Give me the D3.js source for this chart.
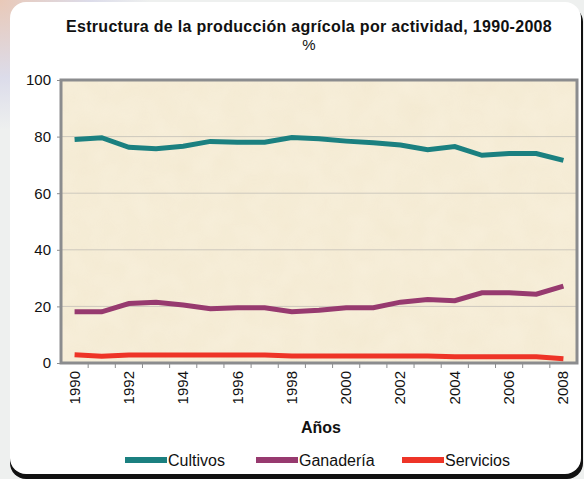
<!DOCTYPE html>
<html lang="es">
<head>
<meta charset="UTF-8">
<title>Estructura de la producción agrícola</title>
<style>
  html, body { margin: 0; padding: 0; background: #eef0ef; }
  svg { display: block; font-family: "Liberation Sans", Arial, sans-serif; }
</style>
</head>
<body>
<div id="chart"></div>
<script src="https://cdn.jsdelivr.net/npm/d3@7"></script>
<script>
// data
var years = ["1990","1991","1992","1993","1994","1995","1996","1997","1998","1999",
             "2000","2001","2002","2003","2004","2005","2006","2007","2008"];
var cultivos  = [79.0, 79.6, 76.2, 75.7, 76.6, 78.3, 78.0, 78.0, 79.7, 79.2,
                 78.4, 77.8, 77.0, 75.4, 76.5, 73.4, 74.0, 74.0, 71.6];
var ganaderia = [18.1, 18.1, 21.0, 21.5, 20.5, 19.2, 19.5, 19.5, 18.1, 18.6,
                 19.5, 19.5, 21.5, 22.4, 22.0, 24.8, 24.8, 24.3, 27.2];
var servicios = [2.9, 2.4, 2.8, 2.8, 2.8, 2.8, 2.8, 2.8, 2.5, 2.5,
                 2.5, 2.5, 2.5, 2.5, 2.2, 2.2, 2.2, 2.2, 1.5];
var seriesNames = ["Cultivos", "Ganadería", "Servicios"];
var seriesColors = ["#1b8080", "#973a6f", "#ee3427"];
var yTicks = [0, 20, 40, 60, 80, 100];

var W = 584, H = 479;
var svg = d3.select("#chart").append("svg").attr("width", W).attr("height", H);

var defs = svg.append("defs");
var bg = defs.append("radialGradient").attr("id", "bgGlow").attr("cx", "0").attr("cy", "0").attr("r", "0.5");
bg.append("stop").attr("offset", "0%").attr("stop-color", "#e9c9b8");
bg.append("stop").attr("offset", "60%").attr("stop-color", "#dcdcea");
bg.append("stop").attr("offset", "100%").attr("stop-color", "#eef0ef");

var tex = defs.append("filter").attr("id", "paper").attr("x", 0).attr("y", 0).attr("width", 1).attr("height", 1);
tex.append("feTurbulence").attr("type", "fractalNoise").attr("baseFrequency", 0.04).attr("numOctaves", 2).attr("seed", 3).attr("result", "n");
tex.append("feColorMatrix").attr("in", "n").attr("type", "matrix")
  .attr("values", "0 0 0 0 0.99  0 0 0 0 0.96  0 0 0 0 0.86  0 0 0 0.5 0");

// page background + card
svg.append("rect").attr("width", W).attr("height", H).attr("fill", "#eef0ef");
svg.append("rect").attr("width", 300).attr("height", 260).attr("fill", "url(#bgGlow)");
svg.append("rect").attr("x", 10).attr("y", 6).attr("width", 573).attr("height", 473)
  .attr("rx", 16).attr("fill", "#111");
svg.append("rect").attr("x", 10).attr("y", 2).attr("width", 571).attr("height", 472)
  .attr("rx", 16).attr("fill", "#fff");

var m = {left: 61, right: 577, top: 80, bottom: 363};

var x = d3.scaleBand().domain(years).range([m.left, m.right]);
var y = d3.scaleLinear().domain([0, 100]).range([m.bottom, m.top]);

// plot area
svg.append("rect").attr("x", m.left).attr("y", m.top)
  .attr("width", m.right - m.left).attr("height", m.bottom - m.top).attr("fill", "#f4ead2");
svg.append("rect").attr("x", m.left).attr("y", m.top)
  .attr("width", m.right - m.left).attr("height", m.bottom - m.top)
  .attr("filter", "url(#paper)").attr("opacity", 0.6);

// gridlines
svg.append("g").selectAll("line").data(yTicks.filter(function(d) { return d > 0 && d < 100; }))
  .join("line")
  .attr("x1", m.left).attr("x2", m.right)
  .attr("y1", function(d) { return y(d); }).attr("y2", function(d) { return y(d); })
  .attr("stroke", "#cdc8bd").attr("stroke-width", 1);

// frame
svg.append("rect").attr("x", m.left).attr("y", m.top)
  .attr("width", m.right - m.left).attr("height", m.bottom - m.top)
  .attr("fill", "none").attr("stroke", "#8b8c8e").attr("stroke-width", 3);

// y axis
var yAxis = svg.append("g").attr("transform", "translate(" + (m.left - 1) + ",0)")
  .call(d3.axisLeft(y).tickValues(yTicks).tickSize(3).tickPadding(6));
yAxis.select(".domain").remove();
yAxis.selectAll(".tick line").attr("stroke", "#8b8c8e");
yAxis.selectAll("text").attr("font-size", 15).attr("fill", "#111").attr("font-family", "Liberation Sans, Arial, sans-serif");

// x axis: ticks at category boundaries, labels rotated
var xg = svg.append("g").attr("transform", "translate(0," + (m.bottom + 1) + ")");
xg.selectAll("line").data(years.slice(1)).join("line")
  .attr("x1", function(d) { return x(d); }).attr("x2", function(d) { return x(d); })
  .attr("y1", 0).attr("y2", 4).attr("stroke", "#8b8c8e");
xg.selectAll("text").data(years.filter(function(d, i) { return i % 2 === 0; })).join("text")
  .attr("transform", function(d) { return "translate(" + (x(d) + x.bandwidth() / 2 + 5) + ",7) rotate(-90)"; })
  .attr("text-anchor", "end")
  .attr("font-size", 15).attr("fill", "#111")
  .text(function(d) { return d; });

// lines
var allSeries = [cultivos, ganaderia, servicios];
var line = d3.line()
  .x(function(d, i) { return x(years[i]) + x.bandwidth() / 2; })
  .y(function(d) { return y(d); });
svg.append("g").selectAll("path").data(allSeries).join("path")
  .attr("d", line)
  .attr("fill", "none")
  .attr("stroke", function(d, i) { return seriesColors[i]; })
  .attr("stroke-width", 5)
  .attr("stroke-linejoin", "miter");

// titles
svg.append("text").attr("x", 309).attr("y", 32).attr("text-anchor", "middle")
  .attr("font-size", 16).attr("font-weight", "bold").attr("fill", "#111")
  .attr("letter-spacing", 0.3)
  .text("Estructura de la producción agrícola por actividad, 1990-2008");
svg.append("text").attr("x", 309).attr("y", 50).attr("text-anchor", "middle")
  .attr("font-size", 15).attr("fill", "#111").text("%");
svg.append("text").attr("x", 321).attr("y", 433).attr("text-anchor", "middle")
  .attr("font-size", 16).attr("font-weight", "bold").attr("fill", "#111").text("Años");

// legend
var legendX = [125, 256, 402];
var lg = svg.append("g").selectAll("g").data(seriesNames).join("g")
  .attr("transform", function(d, i) { return "translate(" + legendX[i] + ",460)"; });
lg.append("line").attr("x1", 0).attr("x2", 42).attr("y1", 0).attr("y2", 0)
  .attr("stroke", function(d, i) { return seriesColors[i]; }).attr("stroke-width", 6);
lg.append("text").attr("x", 43).attr("y", 5.5).attr("font-size", 16).attr("fill", "#111")
  .text(function(d) { return d; });
</script>
</body>
</html>
